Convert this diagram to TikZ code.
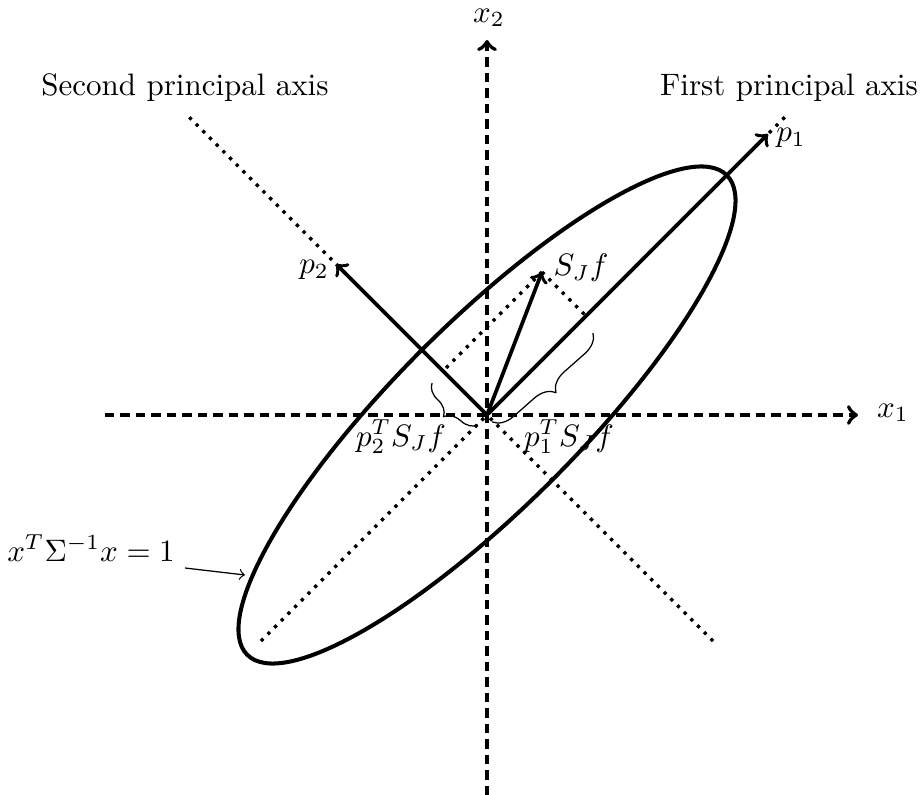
\documentclass[tikz,border=0pt]{standalone}
\usetikzlibrary{decorations.pathreplacing}
\begin{document}
\begin{tikzpicture}[x=0.3226pt,y=-0.3226pt,
  axisline/.style={line width=1.3pt,densely dashed,->},
  princ/.style={line width=1.05pt,dotted},
  vec/.style={very thick,->},
  proj/.style={line width=1.05pt,dotted},
  bracestyle/.style={thin,decorate,decoration={brace,amplitude=#1}},
  lbl/.style={inner sep=1pt}]
\useasboundingbox (0,0) rectangle (922,795);
\coordinate (O) at (487,415);
% axes
\coordinate (x1s) at (105,415);
\coordinate (x1e) at (858,415);
\coordinate (x2s) at (487,795);
\coordinate (x2e) at (487,40);
\draw[axisline] (x1s) -- (x1e);
\draw[axisline] (x2s) -- (x2e);
\node[lbl] (x1) at (893,413) {$x_1$};
\node[lbl] (x2) at (489,18) {$x_2$};
% principal axes
\coordinate (a1s) at (261,641);
\coordinate (a1e) at (787,115);
\coordinate (a2s) at (713,641);
\coordinate (a2e) at (187,115);
\draw[princ] (a1s) -- (a1e);
\draw[princ] (a2s) -- (a2e);
\node[lbl] (fpa) at (789,88) {First principal axis};
\node[lbl] (spa) at (185,88) {Second principal axis};
% ellipse
\draw[line width=1.3pt,rotate around={45:(O)}] (O) ellipse [x radius=109.4pt, y radius=29.7pt];
% vectors
\coordinate (p1t) at (768,134);
\coordinate (p2t) at (336,264);
\coordinate (St) at (542,272);
\draw[vec] (O) -- (p1t);
\draw[vec] (O) -- (p2t);
\draw[vec] (O) -- (St);
\node[lbl] (p1) at (791,138) {$p_1$};
\node[lbl] (p2) at (314,270) {$p_2$};
\node[lbl] (S) at (581,268) {$S_J f$};
% projections
\coordinate (pr1) at (586,316);
\coordinate (pr2) at (443,371);
\draw[proj] (St) -- (pr1);
\draw[proj] (St) -- (pr2);
% braces
\coordinate (b1s) at (593,333);
\coordinate (b1e) at (492,422);
\coordinate (b2s) at (478,425);
\coordinate (b2e) at (432,383);
\draw[bracestyle=6.5pt] (b1s) -- (b1e);
\draw[bracestyle=5.5pt] (b2s) -- (b2e);
\node[lbl] (l1) at (569,437) {$p_1^T S_J f$};
\node[lbl] (l2) at (401,437) {$p_2^T S_J f$};
% ellipse label
\node[lbl] (el) at (91,548) {$x^T\Sigma^{-1}x = 1$};
\coordinate (ea) at (185,568);
\coordinate (eb) at (245,575);
\draw[thin,->] (ea) -- (eb);
\end{tikzpicture}
\end{document}
